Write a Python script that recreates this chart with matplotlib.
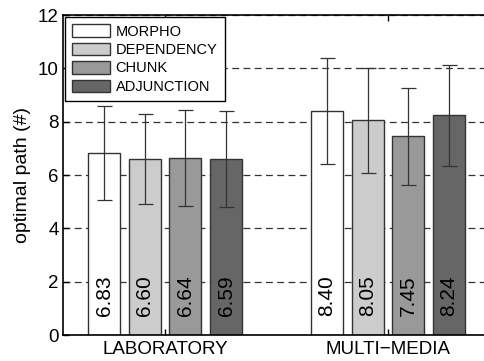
import numpy as np
import matplotlib
matplotlib.use("Agg")
import matplotlib.pyplot as plt

plt.rcParams['font.family'] = ['Liberation Sans', 'DejaVu Sans']

# datos
groups = ['LABORATORY', 'MULTI\u2212MEDIA']
series = ['MORPHO', 'DEPENDENCY', 'CHUNK', 'ADJUNCTION']
values = [[6.83, 8.40],
          [6.60, 8.05],
          [6.64, 7.45],
          [6.59, 8.24]]
errors = [[1.75, 2.00],
          [1.70, 1.97],
          [1.80, 1.81],
          [1.80, 1.90]]
colors = ['#ffffff', '#cccccc', '#999999', '#666666']

fig = plt.figure(figsize=(4.85, 3.61), dpi=100)
ax = fig.add_axes([63/485, 26/361, 437/485, 320/361])

x = np.arange(1, len(groups) + 1)
offsets = [-0.2735, -0.09, 0.09, 0.2735]
width = 0.1435

for i in range(len(series)):
    xs = x + offsets[i]
    ax.bar(xs, values[i], width, color=colors[i], edgecolor='#333333',
           linewidth=1, label=series[i], zorder=2)
    ax.errorbar(xs, values[i], yerr=errors[i], fmt='none', ecolor='#333333',
                elinewidth=0.9, capsize=5.4, capthick=0.9, zorder=3)
    for xx, v in zip(xs, values[i]):
        ax.text(xx, 0.72, f'{v:.2f}', rotation=90, ha='center', va='bottom',
                fontsize=15, zorder=4)

ax.set_xlim(0.5426, 2.502)
ax.set_ylim(0, 12)
ax.set_xticks(x)
ax.set_xticklabels(groups)
ax.set_yticks(range(0, 13, 2))
ax.tick_params(direction='in', top=True, right=True, length=4, width=1,
               labelsize=13.5, pad=3)
ax.tick_params(axis='x', pad=4)
for s in ax.spines.values():
    s.set_linewidth(1.2)

ax.yaxis.grid(True, color='#333333', linestyle=(0, (5.5, 3.5)), linewidth=0.9)
ax.set_axisbelow(True)
ax.set_ylabel('optimal path (#)', fontsize=14, labelpad=5)

leg = ax.legend(loc='upper left', fontsize=10.5, fancybox=False, framealpha=1,
                edgecolor='black', borderaxespad=0.15, handlelength=2.6,
                handleheight=0.9, handletextpad=0.35, labelspacing=0.3,
                borderpad=0.5)
leg.get_frame().set_linewidth(1)

fig.savefig('out.png', dpi=100)
